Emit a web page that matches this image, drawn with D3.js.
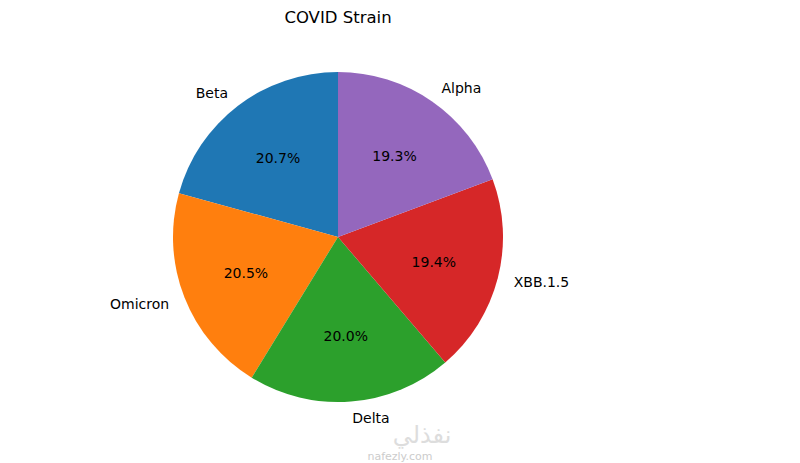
<!DOCTYPE html>
<html><head><meta charset="utf-8">
<script src="https://cdn.jsdelivr.net/npm/d3@7"></script>
<style>body{margin:0;background:#fff}text{font-family:"DejaVu Sans",sans-serif}</style>
</head><body><svg id="c" width="800" height="463"></svg>
<script>
const categories = ["Beta","Omicron","Delta","XBB.1.5","Alpha"];
const values = [20.7,20.5,20.0,19.4,19.3];
const colors = ["#1f77b4","#ff7f0e","#2ca02c","#d62728","#9467bd"];
const svg = d3.select("#c");
const cx=338, cy=237, R=165;
svg.append("text").attr("x",cx).attr("y",23).attr("text-anchor","middle").attr("font-size",16.5).text("COVID Strain");
const total=d3.sum(values);
const ang=d3.scaleLinear().domain([0,total]).range([0,-2*Math.PI]);
const g=svg.append("g").attr("transform",`translate(${cx},${cy})`);
let cum=0;
const arc=d3.arc().innerRadius(0).outerRadius(R);
values.forEach((v,i)=>{
  const a0=ang(cum), a1=ang(cum+v); cum+=v;
  g.append("path").attr("d",arc({startAngle:a1,endAngle:a0})).attr("fill",colors[i]);
  const m=(a0+a1)/2;
  const lx=Math.sin(m)*R*1.1, ly=-Math.cos(m)*R*1.1;
  g.append("text").attr("x",lx).attr("y",ly).attr("dy","0.35em").attr("font-size",14)
    .attr("text-anchor",lx<0?"end":"start").text(categories[i]);
  g.append("text").attr("x",Math.sin(m)*R*0.6).attr("y",-Math.cos(m)*R*0.6).attr("dy","0.35em")
    .attr("font-size",14).attr("text-anchor","middle").text(v.toFixed(1)+"%");
});
svg.append("text").attr("x",422).attr("y",443).attr("text-anchor","middle").attr("font-size",24).attr("fill","#ddd").attr("font-family","Noto Sans").text("نفذلي");
svg.append("text").attr("x",400).attr("y",460).attr("text-anchor","middle").attr("font-size",11).attr("fill","#ccc").text("nafezly.com");
</script></body></html>
